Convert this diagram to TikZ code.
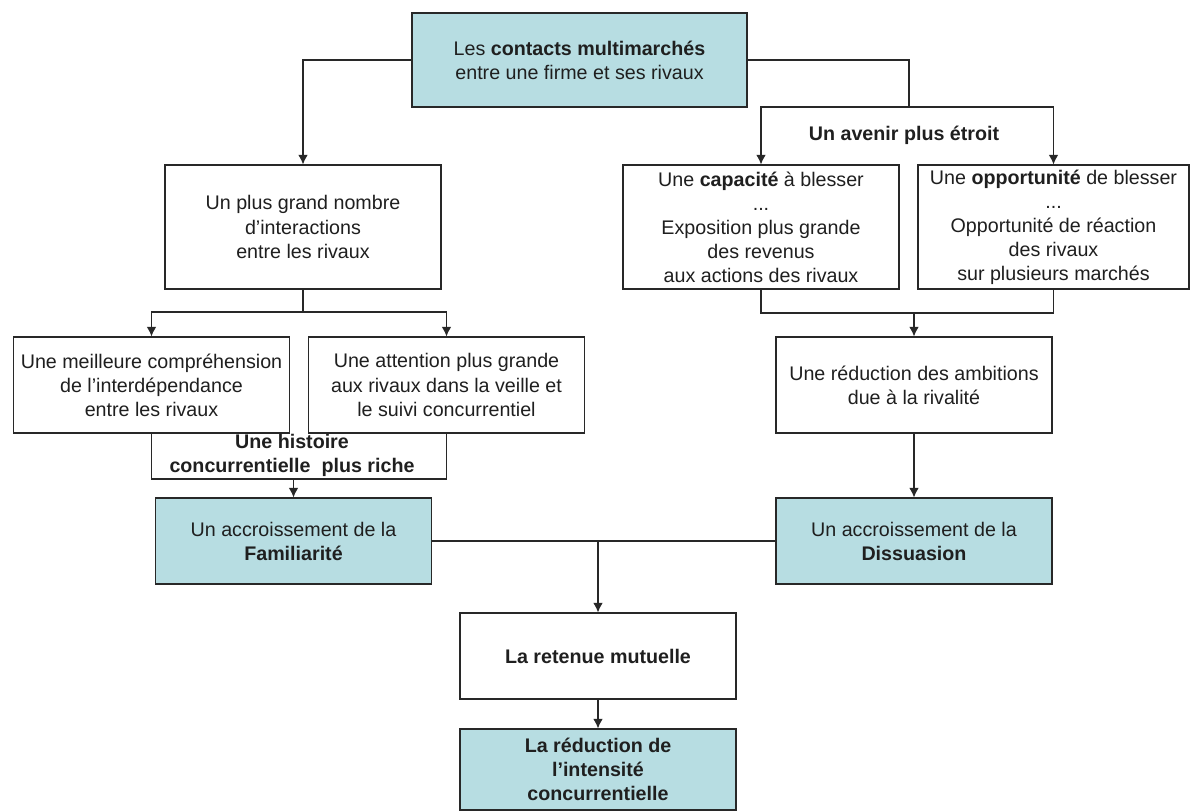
\documentclass[tikz,border=0pt]{standalone}
\usepackage{fontspec}
\setmainfont{Liberation Sans}
\usepackage{tikz}
\usetikzlibrary{positioning}
\usetikzlibrary{arrows.meta}

\definecolor{KeyFill}{RGB}{183,221,226}
\definecolor{LineGray}{RGB}{40,40,40}

\tikzset{
	box/.style={draw=LineGray, line width=0.7pt, fill=white, align=center, inner sep=0pt,
		minimum width=5.52cm, minimum height=2.48cm, text=black!88},
	keybox/.style={box, fill=KeyFill},
	boldtext/.style={font=\fontsize{11.2}{13.7}\selectfont\bfseries},
	tag/.style={boldtext, align=center, inner sep=0pt, text=black!88},
	link/.style={draw=LineGray, line width=0.6pt},
	flow/.style={link, -{Latex[length=5.4pt,width=5.4pt]}},
}

\begin{document}
\begin{tikzpicture}[x=0.02cm, y=-0.02cm, font=\fontsize{11.2}{13.7}\selectfont]
	
	% ------------------------------------------------
	% Ensure the dimensions of graphic are appropriate
	\useasboundingbox (0,0) rectangle (1190,811);
	
	% ------------------------------------------------
	% Relevant coordinates
	\coordinate (TopC) at (579.5,60);
	
	\path (TopC)  +(-276.5,167) coordinate (InterC);
	\path (InterC) +(458,0)     coordinate (CapaC);
	\path (CapaC)  +(292.5,0)   coordinate (OppoC);
	
	\path (InterC) +(-151.5,158) coordinate (CompC);
	\path (InterC) +(143.5,158)  coordinate (AttC);
	\path (CapaC)  +(153,158)    coordinate (RedC);
	
	\coordinate (AvenirFork)   at (909,107);
	\coordinate (InterSplit)   at (303,312);
	\coordinate (HistoireJoin) at (293.5,479);
	\coordinate (ReducJoin)    at (914,313);
	\coordinate (Merge)        at (598,541);
	
	% ----------------
	% Boxes, upper part
	\node[keybox, minimum width=6.70cm, minimum height=1.88cm] (Contacts) at (TopC)
		{Les \textbf{contacts multimarchés}\\entre une firme et ses rivaux};
	
	\node[box] (Interactions) at (InterC) {Un plus grand nombre\\d'interactions\\entre les rivaux};
	\node[box] (Capacite) at (CapaC)
		{Une \textbf{capacité} à blesser\\...\\Exposition plus grande\\des revenus\\aux actions des rivaux};
	\node[box, minimum width=5.42cm] (Opportunite) at (OppoC)
		{Une \textbf{opportunité} de blesser\\...\\Opportunité de réaction\\des rivaux\\sur plusieurs marchés};
	
	\node[box, minimum height=1.92cm] (Comprehension) at (CompC)
		{Une meilleure compréhension\\de l'interdépendance\\entre les rivaux};
	\node[box, minimum height=1.92cm] (Attention) at (AttC)
		{Une attention plus grande\\aux rivaux dans la veille et\\le suivi concurrentiel};
	\node[box, minimum height=1.92cm] (Reduction) at (RedC)
		{Une réduction des ambitions\\due à la rivalité};
	
	% ----------------
	% Boxes, lower part
	\node[keybox, minimum height=1.72cm] (Familiarite) at (293.5,541) {Un accroissement de la\\\textbf{Familiarité}};
	\node[keybox, minimum height=1.72cm] (Dissuasion)  at (914,541)   {Un accroissement de la\\\textbf{Dissuasion}};
	
	\node[box, boldtext, minimum height=1.72cm] (Retenue) at (598,656) {La retenue mutuelle};
	\node[keybox, boldtext, minimum height=1.62cm] (Intensite) at (598,769.5)
		{La réduction de\\l’intensité\\concurrentielle};
	
	% ----------------
	% Labels on the connectors
	\node[tag] (Avenir)   at (904,135) {Un avenir plus étroit};
	\node[tag] (Histoire) at (292,455) {Une histoire\\concurrentielle\ \ plus riche};
	
	%%%%%%%%%%%%%%%%%%%%%%%%%%%%%%%%%%%%%%%%%
	%Connectors
	\draw[flow] (Contacts.west) -| (Interactions.north);
	\draw[link] (Contacts.east) -| (AvenirFork);
	\draw[flow] (AvenirFork) -| (Capacite.north);
	\draw[flow] (AvenirFork) -| (Opportunite.north);
	
	\draw[link] (Interactions.south) -- (InterSplit);
	\draw[flow] (InterSplit) -| (Comprehension.north);
	\draw[flow] (InterSplit) -| (Attention.north);
	
	\draw[link] (Comprehension.south) |- (HistoireJoin) -| (Attention.south);
	\draw[flow] (HistoireJoin) -- (Familiarite.north);
	
	\draw[link] (Capacite.south) |- (ReducJoin) -| (Opportunite.south);
	\draw[flow] (ReducJoin) -- (Reduction.north);
	\draw[flow] (Reduction) -- (Dissuasion);
	
	\draw[link] (Familiarite.east) -- (Dissuasion.west);
	\draw[flow] (Merge) -- (Retenue.north);
	\draw[flow] (Retenue) -- (Intensite);
	
\end{tikzpicture}
\end{document}
